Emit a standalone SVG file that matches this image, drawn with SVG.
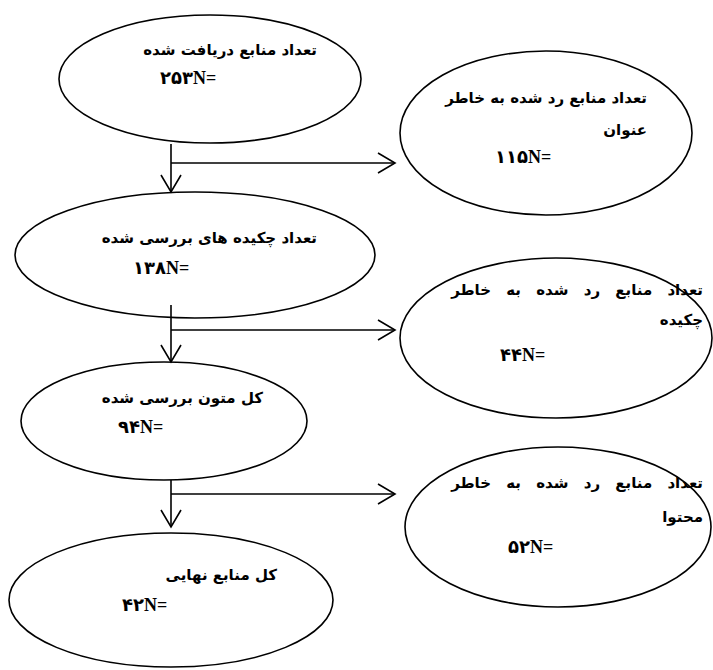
<svg xmlns="http://www.w3.org/2000/svg" width="713" height="670" viewBox="0 0 713 670">
<style>
.node ellipse{fill:#fff;stroke:#000;stroke-width:1.6}
.fa{font-family:"DejaVu Sans","Noto Sans",sans-serif;font-weight:bold;font-size:15px;fill:#000}
.num{font-family:"Liberation Serif","DejaVu Sans",serif;font-weight:bold;font-size:18px;fill:#000}
.conn line{stroke:#000;stroke-width:1.6}
</style>
<defs>
<marker id="arr" viewBox="-19 -11 21 22" refX="0" refY="0" markerWidth="21" markerHeight="22" markerUnits="userSpaceOnUse" orient="auto" overflow="visible">
<path d="M-17,-10 L0,0 L-17,10" fill="none" stroke="#000" stroke-width="1.6"/>
</marker>
</defs>
<g id="n1" class="node">
<ellipse cx="210" cy="79" rx="151" ry="64"/>
<text class="fa" x="317" y="55" text-anchor="end">تعداد منابع دریافت شده</text>
<text class="num" x="160" y="84">۲۵۳N=</text>
</g>
<g id="n2" class="node">
<ellipse cx="546" cy="133" rx="146" ry="82"/>
<text class="fa" x="647" y="103" text-anchor="end">تعداد منابع رد شده به خاطر</text>
<text class="fa" x="647" y="135" text-anchor="end">عنوان</text>
<text class="num" x="495" y="163">۱۱۵N=</text>
</g>
<g id="n3" class="node">
<ellipse cx="195" cy="255" rx="180" ry="63"/>
<text class="fa" x="317" y="243" text-anchor="end">تعداد چکیده های بررسی شده</text>
<text class="num" x="133" y="274">۱۳۸N=</text>
</g>
<g id="n4" class="node">
<ellipse cx="556" cy="338" rx="156" ry="80"/>
<text class="fa" x="703" y="295" text-anchor="end" word-spacing="10">تعداد منابع رد شده به خاطر</text>
<text class="fa" x="703" y="325" text-anchor="end">چکیده</text>
<text class="num" x="500" y="361">۴۴N=</text>
</g>
<g id="n5" class="node">
<ellipse cx="164" cy="421" rx="143" ry="59"/>
<text class="fa" x="263" y="403" text-anchor="end">کل متون بررسی شده</text>
<text class="num" x="118" y="433">۹۴N=</text>
</g>
<g id="n6" class="node">
<ellipse cx="558" cy="527" rx="153" ry="80"/>
<text class="fa" x="703" y="488" text-anchor="end" word-spacing="10">تعداد منابع رد شده به خاطر</text>
<text class="fa" x="703" y="522" text-anchor="end">محتوا</text>
<text class="num" x="508" y="553">۵۲N=</text>
</g>
<g id="n7" class="node">
<ellipse cx="171" cy="600" rx="162" ry="67"/>
<text class="fa" x="277" y="580" text-anchor="end">کل منابع نهایی</text>
<text class="num" x="122" y="611">۴۲N=</text>
</g>
<g id="connectors" class="conn">
<line x1="171" y1="144" x2="171" y2="192" marker-end="url(#arr)"/>
<line x1="171" y1="163" x2="395" y2="163" marker-end="url(#arr)"/>
<line x1="171" y1="305" x2="171" y2="362" marker-end="url(#arr)"/>
<line x1="171" y1="330" x2="395" y2="330" marker-end="url(#arr)"/>
<line x1="171" y1="480" x2="171" y2="527" marker-end="url(#arr)"/>
<line x1="171" y1="494" x2="395" y2="494" marker-end="url(#arr)"/>
</g>
</svg>
